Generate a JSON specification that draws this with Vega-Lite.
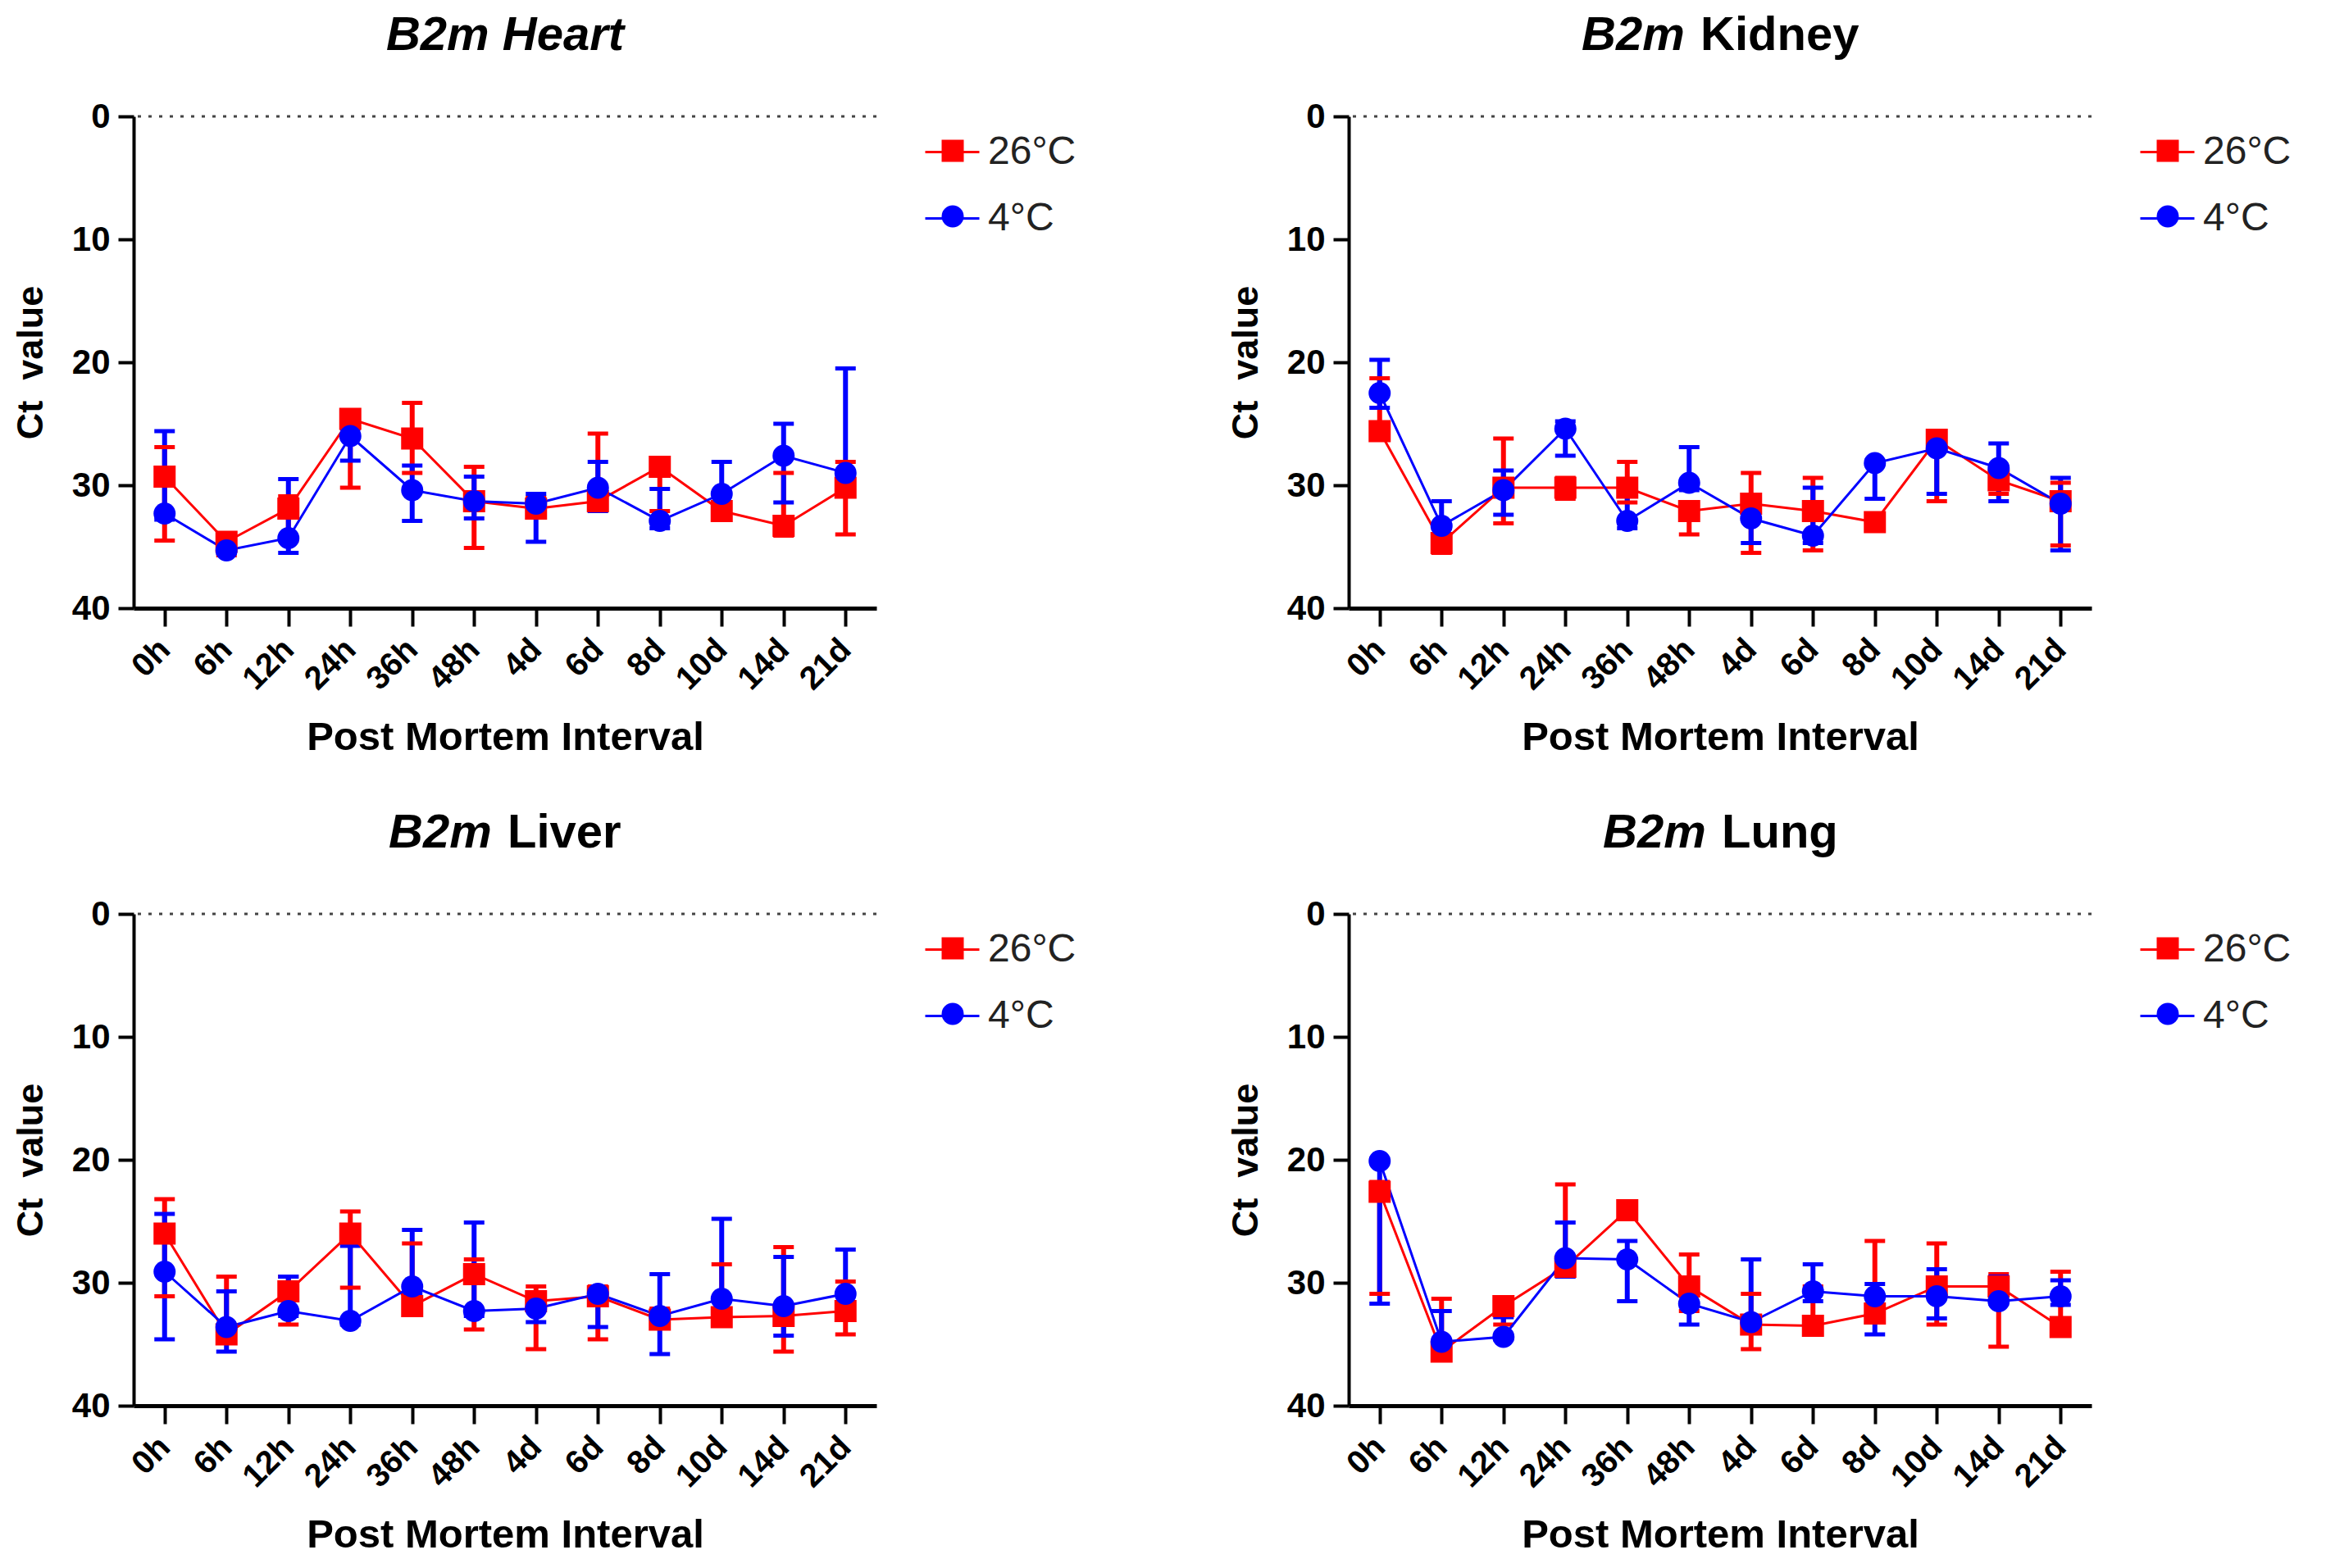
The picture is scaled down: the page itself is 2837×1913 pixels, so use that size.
{
  "$schema": "https://vega.github.io/schema/vega-lite/v6.json",
  "background": "white",
  "padding": {"left": 15, "top": 15, "right": 5, "bottom": 5},
  "config": {
    "font": "Liberation Sans",
    "view": {"stroke": null},
    "scale": {"pointPadding": 0.5},
    "axis": {"grid": false, "domainColor": "black", "tickColor": "black", "labelColor": "black", "titleColor": "black", "labelFont": "Liberation Sans", "titleFont": "Liberation Sans", "labelFontWeight": "bold", "titleFontWeight": "bold"},
    "axisX": {"labelAngle": -45, "labelAlign": "right", "labelBaseline": "middle", "labelPadding": 22, "labelFontSize": 40, "tickSize": 22, "tickWidth": 4, "domainWidth": 5, "titleFontSize": 49, "titlePadding": 27, "labelOverlap": false},
    "axisY": {"tickCount": 4, "labelFontSize": 42, "tickSize": 19, "tickWidth": 4, "domainWidth": 4, "labelPadding": 10, "titleFontSize": 45, "titlePadding": 27},
    "title": {"font": "Liberation Sans", "fontSize": 58, "fontWeight": "bold", "color": "black", "offset": 48, "frame": "group"},
    "legend": {"labelFont": "Liberation Sans", "labelFontSize": 48, "labelColor": "#222", "rowPadding": 22, "padding": 0}
  },
  "datasets": {
    "ct": [
      {"tissue":"Heart","temp":"26°C","pmi":"0h","mean":29.3,"lo":26.9,"hi":34.5},
      {"tissue":"Heart","temp":"26°C","pmi":"6h","mean":34.6,"lo":34.1,"hi":35.7},
      {"tissue":"Heart","temp":"26°C","pmi":"12h","mean":31.9,"lo":30.9,"hi":34.5},
      {"tissue":"Heart","temp":"26°C","pmi":"24h","mean":24.6,"lo":24.3,"hi":30.2},
      {"tissue":"Heart","temp":"26°C","pmi":"36h","mean":26.2,"lo":23.3,"hi":29.0},
      {"tissue":"Heart","temp":"26°C","pmi":"48h","mean":31.3,"lo":28.5,"hi":35.1},
      {"tissue":"Heart","temp":"26°C","pmi":"4d","mean":31.9,"lo":31.0,"hi":32.3},
      {"tissue":"Heart","temp":"26°C","pmi":"6d","mean":31.3,"lo":25.8,"hi":31.7},
      {"tissue":"Heart","temp":"26°C","pmi":"8d","mean":28.5,"lo":28.0,"hi":32.1},
      {"tissue":"Heart","temp":"26°C","pmi":"10d","mean":32.1,"lo":30.7,"hi":32.7},
      {"tissue":"Heart","temp":"26°C","pmi":"14d","mean":33.3,"lo":29.0,"hi":34.1},
      {"tissue":"Heart","temp":"26°C","pmi":"21d","mean":30.2,"lo":28.1,"hi":34.0},
      {"tissue":"Heart","temp":"4°C","pmi":"0h","mean":32.3,"lo":25.6,"hi":32.8},
      {"tissue":"Heart","temp":"4°C","pmi":"6h","mean":35.3,"lo":34.9,"hi":35.5},
      {"tissue":"Heart","temp":"4°C","pmi":"12h","mean":34.3,"lo":29.5,"hi":35.5},
      {"tissue":"Heart","temp":"4°C","pmi":"24h","mean":26.0,"lo":25.4,"hi":28.0},
      {"tissue":"Heart","temp":"4°C","pmi":"36h","mean":30.4,"lo":28.4,"hi":32.9},
      {"tissue":"Heart","temp":"4°C","pmi":"48h","mean":31.3,"lo":29.3,"hi":32.7},
      {"tissue":"Heart","temp":"4°C","pmi":"4d","mean":31.5,"lo":30.7,"hi":34.6},
      {"tissue":"Heart","temp":"4°C","pmi":"6d","mean":30.2,"lo":28.1,"hi":32.1},
      {"tissue":"Heart","temp":"4°C","pmi":"8d","mean":32.9,"lo":30.3,"hi":33.5},
      {"tissue":"Heart","temp":"4°C","pmi":"10d","mean":30.7,"lo":28.1,"hi":31.9},
      {"tissue":"Heart","temp":"4°C","pmi":"14d","mean":27.6,"lo":25.0,"hi":31.4},
      {"tissue":"Heart","temp":"4°C","pmi":"21d","mean":29.0,"lo":20.5,"hi":30.0},
      {"tissue":"Kidney","temp":"26°C","pmi":"0h","mean":25.6,"lo":21.3,"hi":26.2},
      {"tissue":"Kidney","temp":"26°C","pmi":"6h","mean":34.7,"lo":33.5,"hi":35.5},
      {"tissue":"Kidney","temp":"26°C","pmi":"12h","mean":30.2,"lo":26.2,"hi":33.1},
      {"tissue":"Kidney","temp":"26°C","pmi":"24h","mean":30.2,"lo":29.4,"hi":31.1},
      {"tissue":"Kidney","temp":"26°C","pmi":"36h","mean":30.2,"lo":28.1,"hi":31.4},
      {"tissue":"Kidney","temp":"26°C","pmi":"48h","mean":32.1,"lo":31.5,"hi":34.0},
      {"tissue":"Kidney","temp":"26°C","pmi":"4d","mean":31.5,"lo":29.0,"hi":35.5},
      {"tissue":"Kidney","temp":"26°C","pmi":"6d","mean":32.1,"lo":29.4,"hi":35.3},
      {"tissue":"Kidney","temp":"26°C","pmi":"8d","mean":33.0,"lo":32.3,"hi":33.7},
      {"tissue":"Kidney","temp":"26°C","pmi":"10d","mean":26.3,"lo":26.0,"hi":31.3},
      {"tissue":"Kidney","temp":"26°C","pmi":"14d","mean":29.6,"lo":28.5,"hi":30.7},
      {"tissue":"Kidney","temp":"26°C","pmi":"21d","mean":31.3,"lo":29.8,"hi":34.9},
      {"tissue":"Kidney","temp":"4°C","pmi":"0h","mean":22.5,"lo":19.8,"hi":23.7},
      {"tissue":"Kidney","temp":"4°C","pmi":"6h","mean":33.3,"lo":31.3,"hi":35.3},
      {"tissue":"Kidney","temp":"4°C","pmi":"12h","mean":30.4,"lo":28.8,"hi":32.4},
      {"tissue":"Kidney","temp":"4°C","pmi":"24h","mean":25.4,"lo":24.8,"hi":27.6},
      {"tissue":"Kidney","temp":"4°C","pmi":"36h","mean":32.9,"lo":30.9,"hi":33.5},
      {"tissue":"Kidney","temp":"4°C","pmi":"48h","mean":29.8,"lo":26.9,"hi":30.4},
      {"tissue":"Kidney","temp":"4°C","pmi":"4d","mean":32.7,"lo":31.5,"hi":34.7},
      {"tissue":"Kidney","temp":"4°C","pmi":"6d","mean":34.1,"lo":30.2,"hi":34.7},
      {"tissue":"Kidney","temp":"4°C","pmi":"8d","mean":28.2,"lo":28.0,"hi":31.1},
      {"tissue":"Kidney","temp":"4°C","pmi":"10d","mean":27.0,"lo":26.2,"hi":30.7},
      {"tissue":"Kidney","temp":"4°C","pmi":"14d","mean":28.6,"lo":26.6,"hi":31.3},
      {"tissue":"Kidney","temp":"4°C","pmi":"21d","mean":31.5,"lo":29.4,"hi":35.3},
      {"tissue":"Liver","temp":"26°C","pmi":"0h","mean":26.0,"lo":23.2,"hi":31.1},
      {"tissue":"Liver","temp":"26°C","pmi":"6h","mean":34.2,"lo":29.5,"hi":34.8},
      {"tissue":"Liver","temp":"26°C","pmi":"12h","mean":30.7,"lo":29.5,"hi":33.4},
      {"tissue":"Liver","temp":"26°C","pmi":"24h","mean":26.0,"lo":24.2,"hi":30.4},
      {"tissue":"Liver","temp":"26°C","pmi":"36h","mean":31.9,"lo":26.8,"hi":32.5},
      {"tissue":"Liver","temp":"26°C","pmi":"48h","mean":29.3,"lo":28.1,"hi":33.8},
      {"tissue":"Liver","temp":"26°C","pmi":"4d","mean":31.5,"lo":30.3,"hi":35.4},
      {"tissue":"Liver","temp":"26°C","pmi":"6d","mean":31.1,"lo":30.3,"hi":34.6},
      {"tissue":"Liver","temp":"26°C","pmi":"8d","mean":33.0,"lo":32.1,"hi":33.2},
      {"tissue":"Liver","temp":"26°C","pmi":"10d","mean":32.8,"lo":28.5,"hi":33.2},
      {"tissue":"Liver","temp":"26°C","pmi":"14d","mean":32.7,"lo":27.1,"hi":35.6},
      {"tissue":"Liver","temp":"26°C","pmi":"21d","mean":32.3,"lo":29.9,"hi":34.2},
      {"tissue":"Liver","temp":"4°C","pmi":"0h","mean":29.1,"lo":24.4,"hi":34.6},
      {"tissue":"Liver","temp":"4°C","pmi":"6h","mean":33.6,"lo":30.7,"hi":35.6},
      {"tissue":"Liver","temp":"4°C","pmi":"12h","mean":32.3,"lo":29.5,"hi":32.7},
      {"tissue":"Liver","temp":"4°C","pmi":"24h","mean":33.1,"lo":27.0,"hi":33.4},
      {"tissue":"Liver","temp":"4°C","pmi":"36h","mean":30.3,"lo":25.7,"hi":30.9},
      {"tissue":"Liver","temp":"4°C","pmi":"48h","mean":32.3,"lo":25.1,"hi":32.7},
      {"tissue":"Liver","temp":"4°C","pmi":"4d","mean":32.1,"lo":31.1,"hi":33.2},
      {"tissue":"Liver","temp":"4°C","pmi":"6d","mean":30.9,"lo":30.5,"hi":33.6},
      {"tissue":"Liver","temp":"4°C","pmi":"8d","mean":32.7,"lo":29.3,"hi":35.8},
      {"tissue":"Liver","temp":"4°C","pmi":"10d","mean":31.3,"lo":24.8,"hi":32.3},
      {"tissue":"Liver","temp":"4°C","pmi":"14d","mean":31.9,"lo":27.9,"hi":34.3},
      {"tissue":"Liver","temp":"4°C","pmi":"21d","mean":30.9,"lo":27.3,"hi":31.9},
      {"tissue":"Lung","temp":"26°C","pmi":"0h","mean":22.6,"lo":21.8,"hi":30.9},
      {"tissue":"Lung","temp":"26°C","pmi":"6h","mean":35.6,"lo":31.3,"hi":35.8},
      {"tissue":"Lung","temp":"26°C","pmi":"12h","mean":31.9,"lo":31.6,"hi":33.4},
      {"tissue":"Lung","temp":"26°C","pmi":"24h","mean":28.7,"lo":22.0,"hi":29.1},
      {"tissue":"Lung","temp":"26°C","pmi":"36h","mean":24.1,"lo":23.8,"hi":24.4},
      {"tissue":"Lung","temp":"26°C","pmi":"48h","mean":30.3,"lo":27.7,"hi":32.3},
      {"tissue":"Lung","temp":"26°C","pmi":"4d","mean":33.4,"lo":30.9,"hi":35.4},
      {"tissue":"Lung","temp":"26°C","pmi":"6d","mean":33.5,"lo":30.3,"hi":34.2},
      {"tissue":"Lung","temp":"26°C","pmi":"8d","mean":32.5,"lo":26.6,"hi":33.2},
      {"tissue":"Lung","temp":"26°C","pmi":"10d","mean":30.3,"lo":26.8,"hi":33.4},
      {"tissue":"Lung","temp":"26°C","pmi":"14d","mean":30.3,"lo":29.3,"hi":35.2},
      {"tissue":"Lung","temp":"26°C","pmi":"21d","mean":33.6,"lo":29.1,"hi":34.0},
      {"tissue":"Lung","temp":"4°C","pmi":"0h","mean":20.1,"lo":19.9,"hi":31.7},
      {"tissue":"Lung","temp":"4°C","pmi":"6h","mean":34.8,"lo":32.3,"hi":35.0},
      {"tissue":"Lung","temp":"4°C","pmi":"12h","mean":34.4,"lo":32.8,"hi":34.6},
      {"tissue":"Lung","temp":"4°C","pmi":"24h","mean":28.0,"lo":25.1,"hi":29.5},
      {"tissue":"Lung","temp":"4°C","pmi":"36h","mean":28.1,"lo":26.6,"hi":31.5},
      {"tissue":"Lung","temp":"4°C","pmi":"48h","mean":31.7,"lo":30.9,"hi":33.4},
      {"tissue":"Lung","temp":"4°C","pmi":"4d","mean":33.2,"lo":28.1,"hi":33.6},
      {"tissue":"Lung","temp":"4°C","pmi":"6d","mean":30.7,"lo":28.5,"hi":31.5},
      {"tissue":"Lung","temp":"4°C","pmi":"8d","mean":31.1,"lo":30.1,"hi":34.2},
      {"tissue":"Lung","temp":"4°C","pmi":"10d","mean":31.1,"lo":28.9,"hi":32.9},
      {"tissue":"Lung","temp":"4°C","pmi":"14d","mean":31.5,"lo":29.5,"hi":31.7},
      {"tissue":"Lung","temp":"4°C","pmi":"21d","mean":31.1,"lo":29.8,"hi":31.8}
    ]
  },
  "columns": 2,
  "spacing": {"row": 63, "column": 173},
  "resolve": {"scale": {"color": "independent", "fill": "independent", "stroke": "independent", "shape": "independent"}},
  "concat": [
    {
      "width": 906, "height": 600,
      "title": {"text": "B2m Heart", "fontStyle": "italic", "anchor": "middle"},
      "layer": [
        {"data": {"values": [{}]}, "mark": {"type": "rule", "strokeDash": [4, 9], "strokeWidth": 3, "color": "#444"},
         "encoding": {"y": {"datum": 0, "type": "quantitative", "scale": {"domain": [0, 40], "reverse": true, "nice": false, "zero": false}, "title": "Ct\u00a0 value"}}},
        {"data": {"name": "ct"}, "transform": [{"filter": "datum.tissue === 'Heart'"}],
         "layer": [
          {"mark": {"type": "rule", "strokeWidth": 6, "opacity": 1},
           "encoding": {"x": {"field": "pmi", "type": "ordinal", "sort": ["0h","6h","12h","24h","36h","48h","4d","6d","8d","10d","14d","21d"], "scale": {"type": "point"}, "title": "Post Mortem Interval"},
                        "y": {"field": "lo", "type": "quantitative", "scale": {"domain": [0, 40], "reverse": true, "nice": false, "zero": false}, "title": "Ct\u00a0 value"},
                        "y2": {"field": "hi"},
                        "color": {"field": "temp", "type": "nominal", "scale": {"range": ["#ff0000", "#0000ff"]}, "legend": null}}},
          {"mark": {"type": "tick", "orient": "horizontal", "size": 25, "thickness": 5, "opacity": 1},
           "encoding": {"x": {"field": "pmi", "type": "ordinal", "sort": ["0h","6h","12h","24h","36h","48h","4d","6d","8d","10d","14d","21d"], "scale": {"type": "point"}, "title": "Post Mortem Interval"},
                        "y": {"field": "lo", "type": "quantitative", "scale": {"domain": [0, 40], "reverse": true, "nice": false, "zero": false}, "title": "Ct\u00a0 value"},
                        "color": {"field": "temp", "type": "nominal", "scale": {"range": ["#ff0000", "#0000ff"]}, "legend": null}}},
          {"mark": {"type": "tick", "orient": "horizontal", "size": 25, "thickness": 5, "opacity": 1},
           "encoding": {"x": {"field": "pmi", "type": "ordinal", "sort": ["0h","6h","12h","24h","36h","48h","4d","6d","8d","10d","14d","21d"], "scale": {"type": "point"}, "title": "Post Mortem Interval"},
                        "y": {"field": "hi", "type": "quantitative", "scale": {"domain": [0, 40], "reverse": true, "nice": false, "zero": false}, "title": "Ct\u00a0 value"},
                        "color": {"field": "temp", "type": "nominal", "scale": {"range": ["#ff0000", "#0000ff"]}, "legend": null}}},
          {"mark": {"type": "line", "strokeWidth": 3, "opacity": 1},
           "encoding": {"x": {"field": "pmi", "type": "ordinal", "sort": ["0h","6h","12h","24h","36h","48h","4d","6d","8d","10d","14d","21d"], "scale": {"type": "point"}, "title": "Post Mortem Interval"},
                        "y": {"field": "mean", "type": "quantitative", "scale": {"domain": [0, 40], "reverse": true, "nice": false, "zero": false}, "title": "Ct\u00a0 value"},
                        "order": {"value": null},
                        "stroke": {"field": "temp", "type": "nominal", "scale": {"domain": ["26°C", "4°C"], "range": ["#ff0000", "#0000ff"]},
                                   "legend": {"title": null, "orient": "none", "legendX": 964, "legendY": 9, "symbolType": "stroke", "symbolSize": 4356, "symbolStrokeWidth": 3, "labelOffset": 9}}}},
          {"mark": {"type": "point", "filled": true, "size": 729, "opacity": 1, "strokeWidth": 0},
           "encoding": {"x": {"field": "pmi", "type": "ordinal", "sort": ["0h","6h","12h","24h","36h","48h","4d","6d","8d","10d","14d","21d"], "scale": {"type": "point"}, "title": "Post Mortem Interval"},
                        "y": {"field": "mean", "type": "quantitative", "scale": {"domain": [0, 40], "reverse": true, "nice": false, "zero": false}, "title": "Ct\u00a0 value"},
                        "fill": {"field": "temp", "type": "nominal", "scale": {"range": ["#ff0000", "#0000ff"]},
                                 "legend": {"title": null, "orient": "none", "legendX": 975, "legendY": 18, "symbolSize": 729, "symbolStrokeWidth": 0, "labelOffset": 30, "labelOpacity": 0, "rowPadding": 32}},
                        "shape": {"field": "temp", "type": "nominal", "scale": {"range": ["square", "circle"]},
                                  "legend": {"title": null, "orient": "none", "legendX": 975, "legendY": 18, "symbolSize": 729, "symbolStrokeWidth": 0, "labelOffset": 30, "labelOpacity": 0, "rowPadding": 32}}}}
         ]}
      ]
    },
    {
      "width": 906, "height": 600,
      "title": {"text": "B2m", "fontStyle": "italic", "anchor": "start", "dx": 284, "subtitle": "\u200b\u00a0\u00a0\u00a0\u00a0\u00a0\u00a0\u00a0\u00a0\u00a0Kidney", "subtitlePadding": -58, "subtitleFont": "Liberation Sans", "subtitleFontSize": 58, "subtitleFontWeight": "bold", "subtitleFontStyle": "normal", "subtitleColor": "black"},
      "layer": [
        {"data": {"values": [{}]}, "mark": {"type": "rule", "strokeDash": [4, 9], "strokeWidth": 3, "color": "#444"},
         "encoding": {"y": {"datum": 0, "type": "quantitative", "scale": {"domain": [0, 40], "reverse": true, "nice": false, "zero": false}, "title": "Ct\u00a0 value"}}},
        {"data": {"name": "ct"}, "transform": [{"filter": "datum.tissue === 'Kidney'"}],
         "layer": [
          {"mark": {"type": "rule", "strokeWidth": 6, "opacity": 1},
           "encoding": {"x": {"field": "pmi", "type": "ordinal", "sort": ["0h","6h","12h","24h","36h","48h","4d","6d","8d","10d","14d","21d"], "scale": {"type": "point"}, "title": "Post Mortem Interval"},
                        "y": {"field": "lo", "type": "quantitative", "scale": {"domain": [0, 40], "reverse": true, "nice": false, "zero": false}, "title": "Ct\u00a0 value"},
                        "y2": {"field": "hi"},
                        "color": {"field": "temp", "type": "nominal", "scale": {"range": ["#ff0000", "#0000ff"]}, "legend": null}}},
          {"mark": {"type": "tick", "orient": "horizontal", "size": 25, "thickness": 5, "opacity": 1},
           "encoding": {"x": {"field": "pmi", "type": "ordinal", "sort": ["0h","6h","12h","24h","36h","48h","4d","6d","8d","10d","14d","21d"], "scale": {"type": "point"}, "title": "Post Mortem Interval"},
                        "y": {"field": "lo", "type": "quantitative", "scale": {"domain": [0, 40], "reverse": true, "nice": false, "zero": false}, "title": "Ct\u00a0 value"},
                        "color": {"field": "temp", "type": "nominal", "scale": {"range": ["#ff0000", "#0000ff"]}, "legend": null}}},
          {"mark": {"type": "tick", "orient": "horizontal", "size": 25, "thickness": 5, "opacity": 1},
           "encoding": {"x": {"field": "pmi", "type": "ordinal", "sort": ["0h","6h","12h","24h","36h","48h","4d","6d","8d","10d","14d","21d"], "scale": {"type": "point"}, "title": "Post Mortem Interval"},
                        "y": {"field": "hi", "type": "quantitative", "scale": {"domain": [0, 40], "reverse": true, "nice": false, "zero": false}, "title": "Ct\u00a0 value"},
                        "color": {"field": "temp", "type": "nominal", "scale": {"range": ["#ff0000", "#0000ff"]}, "legend": null}}},
          {"mark": {"type": "line", "strokeWidth": 3, "opacity": 1},
           "encoding": {"x": {"field": "pmi", "type": "ordinal", "sort": ["0h","6h","12h","24h","36h","48h","4d","6d","8d","10d","14d","21d"], "scale": {"type": "point"}, "title": "Post Mortem Interval"},
                        "y": {"field": "mean", "type": "quantitative", "scale": {"domain": [0, 40], "reverse": true, "nice": false, "zero": false}, "title": "Ct\u00a0 value"},
                        "order": {"value": null},
                        "stroke": {"field": "temp", "type": "nominal", "scale": {"domain": ["26°C", "4°C"], "range": ["#ff0000", "#0000ff"]},
                                   "legend": {"title": null, "orient": "none", "legendX": 964, "legendY": 9, "symbolType": "stroke", "symbolSize": 4356, "symbolStrokeWidth": 3, "labelOffset": 9}}}},
          {"mark": {"type": "point", "filled": true, "size": 729, "opacity": 1, "strokeWidth": 0},
           "encoding": {"x": {"field": "pmi", "type": "ordinal", "sort": ["0h","6h","12h","24h","36h","48h","4d","6d","8d","10d","14d","21d"], "scale": {"type": "point"}, "title": "Post Mortem Interval"},
                        "y": {"field": "mean", "type": "quantitative", "scale": {"domain": [0, 40], "reverse": true, "nice": false, "zero": false}, "title": "Ct\u00a0 value"},
                        "fill": {"field": "temp", "type": "nominal", "scale": {"range": ["#ff0000", "#0000ff"]},
                                 "legend": {"title": null, "orient": "none", "legendX": 975, "legendY": 18, "symbolSize": 729, "symbolStrokeWidth": 0, "labelOffset": 30, "labelOpacity": 0, "rowPadding": 32}},
                        "shape": {"field": "temp", "type": "nominal", "scale": {"range": ["square", "circle"]},
                                  "legend": {"title": null, "orient": "none", "legendX": 975, "legendY": 18, "symbolSize": 729, "symbolStrokeWidth": 0, "labelOffset": 30, "labelOpacity": 0, "rowPadding": 32}}}}
         ]}
      ]
    },
    {
      "width": 906, "height": 600,
      "title": {"text": "B2m", "fontStyle": "italic", "anchor": "start", "dx": 311, "subtitle": "\u200b\u00a0\u00a0\u00a0\u00a0\u00a0\u00a0\u00a0\u00a0\u00a0Liver", "subtitlePadding": -58, "subtitleFont": "Liberation Sans", "subtitleFontSize": 58, "subtitleFontWeight": "bold", "subtitleFontStyle": "normal", "subtitleColor": "black"},
      "layer": [
        {"data": {"values": [{}]}, "mark": {"type": "rule", "strokeDash": [4, 9], "strokeWidth": 3, "color": "#444"},
         "encoding": {"y": {"datum": 0, "type": "quantitative", "scale": {"domain": [0, 40], "reverse": true, "nice": false, "zero": false}, "title": "Ct\u00a0 value"}}},
        {"data": {"name": "ct"}, "transform": [{"filter": "datum.tissue === 'Liver'"}],
         "layer": [
          {"mark": {"type": "rule", "strokeWidth": 6, "opacity": 1},
           "encoding": {"x": {"field": "pmi", "type": "ordinal", "sort": ["0h","6h","12h","24h","36h","48h","4d","6d","8d","10d","14d","21d"], "scale": {"type": "point"}, "title": "Post Mortem Interval"},
                        "y": {"field": "lo", "type": "quantitative", "scale": {"domain": [0, 40], "reverse": true, "nice": false, "zero": false}, "title": "Ct\u00a0 value"},
                        "y2": {"field": "hi"},
                        "color": {"field": "temp", "type": "nominal", "scale": {"range": ["#ff0000", "#0000ff"]}, "legend": null}}},
          {"mark": {"type": "tick", "orient": "horizontal", "size": 25, "thickness": 5, "opacity": 1},
           "encoding": {"x": {"field": "pmi", "type": "ordinal", "sort": ["0h","6h","12h","24h","36h","48h","4d","6d","8d","10d","14d","21d"], "scale": {"type": "point"}, "title": "Post Mortem Interval"},
                        "y": {"field": "lo", "type": "quantitative", "scale": {"domain": [0, 40], "reverse": true, "nice": false, "zero": false}, "title": "Ct\u00a0 value"},
                        "color": {"field": "temp", "type": "nominal", "scale": {"range": ["#ff0000", "#0000ff"]}, "legend": null}}},
          {"mark": {"type": "tick", "orient": "horizontal", "size": 25, "thickness": 5, "opacity": 1},
           "encoding": {"x": {"field": "pmi", "type": "ordinal", "sort": ["0h","6h","12h","24h","36h","48h","4d","6d","8d","10d","14d","21d"], "scale": {"type": "point"}, "title": "Post Mortem Interval"},
                        "y": {"field": "hi", "type": "quantitative", "scale": {"domain": [0, 40], "reverse": true, "nice": false, "zero": false}, "title": "Ct\u00a0 value"},
                        "color": {"field": "temp", "type": "nominal", "scale": {"range": ["#ff0000", "#0000ff"]}, "legend": null}}},
          {"mark": {"type": "line", "strokeWidth": 3, "opacity": 1},
           "encoding": {"x": {"field": "pmi", "type": "ordinal", "sort": ["0h","6h","12h","24h","36h","48h","4d","6d","8d","10d","14d","21d"], "scale": {"type": "point"}, "title": "Post Mortem Interval"},
                        "y": {"field": "mean", "type": "quantitative", "scale": {"domain": [0, 40], "reverse": true, "nice": false, "zero": false}, "title": "Ct\u00a0 value"},
                        "order": {"value": null},
                        "stroke": {"field": "temp", "type": "nominal", "scale": {"domain": ["26°C", "4°C"], "range": ["#ff0000", "#0000ff"]},
                                   "legend": {"title": null, "orient": "none", "legendX": 964, "legendY": 9, "symbolType": "stroke", "symbolSize": 4356, "symbolStrokeWidth": 3, "labelOffset": 9}}}},
          {"mark": {"type": "point", "filled": true, "size": 729, "opacity": 1, "strokeWidth": 0},
           "encoding": {"x": {"field": "pmi", "type": "ordinal", "sort": ["0h","6h","12h","24h","36h","48h","4d","6d","8d","10d","14d","21d"], "scale": {"type": "point"}, "title": "Post Mortem Interval"},
                        "y": {"field": "mean", "type": "quantitative", "scale": {"domain": [0, 40], "reverse": true, "nice": false, "zero": false}, "title": "Ct\u00a0 value"},
                        "fill": {"field": "temp", "type": "nominal", "scale": {"range": ["#ff0000", "#0000ff"]},
                                 "legend": {"title": null, "orient": "none", "legendX": 975, "legendY": 18, "symbolSize": 729, "symbolStrokeWidth": 0, "labelOffset": 30, "labelOpacity": 0, "rowPadding": 32}},
                        "shape": {"field": "temp", "type": "nominal", "scale": {"range": ["square", "circle"]},
                                  "legend": {"title": null, "orient": "none", "legendX": 975, "legendY": 18, "symbolSize": 729, "symbolStrokeWidth": 0, "labelOffset": 30, "labelOpacity": 0, "rowPadding": 32}}}}
         ]}
      ]
    },
    {
      "width": 906, "height": 600,
      "title": {"text": "B2m", "fontStyle": "italic", "anchor": "start", "dx": 310, "subtitle": "\u200b\u00a0\u00a0\u00a0\u00a0\u00a0\u00a0\u00a0\u00a0\u00a0Lung", "subtitlePadding": -58, "subtitleFont": "Liberation Sans", "subtitleFontSize": 58, "subtitleFontWeight": "bold", "subtitleFontStyle": "normal", "subtitleColor": "black"},
      "layer": [
        {"data": {"values": [{}]}, "mark": {"type": "rule", "strokeDash": [4, 9], "strokeWidth": 3, "color": "#444"},
         "encoding": {"y": {"datum": 0, "type": "quantitative", "scale": {"domain": [0, 40], "reverse": true, "nice": false, "zero": false}, "title": "Ct\u00a0 value"}}},
        {"data": {"name": "ct"}, "transform": [{"filter": "datum.tissue === 'Lung'"}],
         "layer": [
          {"mark": {"type": "rule", "strokeWidth": 6, "opacity": 1},
           "encoding": {"x": {"field": "pmi", "type": "ordinal", "sort": ["0h","6h","12h","24h","36h","48h","4d","6d","8d","10d","14d","21d"], "scale": {"type": "point"}, "title": "Post Mortem Interval"},
                        "y": {"field": "lo", "type": "quantitative", "scale": {"domain": [0, 40], "reverse": true, "nice": false, "zero": false}, "title": "Ct\u00a0 value"},
                        "y2": {"field": "hi"},
                        "color": {"field": "temp", "type": "nominal", "scale": {"range": ["#ff0000", "#0000ff"]}, "legend": null}}},
          {"mark": {"type": "tick", "orient": "horizontal", "size": 25, "thickness": 5, "opacity": 1},
           "encoding": {"x": {"field": "pmi", "type": "ordinal", "sort": ["0h","6h","12h","24h","36h","48h","4d","6d","8d","10d","14d","21d"], "scale": {"type": "point"}, "title": "Post Mortem Interval"},
                        "y": {"field": "lo", "type": "quantitative", "scale": {"domain": [0, 40], "reverse": true, "nice": false, "zero": false}, "title": "Ct\u00a0 value"},
                        "color": {"field": "temp", "type": "nominal", "scale": {"range": ["#ff0000", "#0000ff"]}, "legend": null}}},
          {"mark": {"type": "tick", "orient": "horizontal", "size": 25, "thickness": 5, "opacity": 1},
           "encoding": {"x": {"field": "pmi", "type": "ordinal", "sort": ["0h","6h","12h","24h","36h","48h","4d","6d","8d","10d","14d","21d"], "scale": {"type": "point"}, "title": "Post Mortem Interval"},
                        "y": {"field": "hi", "type": "quantitative", "scale": {"domain": [0, 40], "reverse": true, "nice": false, "zero": false}, "title": "Ct\u00a0 value"},
                        "color": {"field": "temp", "type": "nominal", "scale": {"range": ["#ff0000", "#0000ff"]}, "legend": null}}},
          {"mark": {"type": "line", "strokeWidth": 3, "opacity": 1},
           "encoding": {"x": {"field": "pmi", "type": "ordinal", "sort": ["0h","6h","12h","24h","36h","48h","4d","6d","8d","10d","14d","21d"], "scale": {"type": "point"}, "title": "Post Mortem Interval"},
                        "y": {"field": "mean", "type": "quantitative", "scale": {"domain": [0, 40], "reverse": true, "nice": false, "zero": false}, "title": "Ct\u00a0 value"},
                        "order": {"value": null},
                        "stroke": {"field": "temp", "type": "nominal", "scale": {"domain": ["26°C", "4°C"], "range": ["#ff0000", "#0000ff"]},
                                   "legend": {"title": null, "orient": "none", "legendX": 964, "legendY": 9, "symbolType": "stroke", "symbolSize": 4356, "symbolStrokeWidth": 3, "labelOffset": 9}}}},
          {"mark": {"type": "point", "filled": true, "size": 729, "opacity": 1, "strokeWidth": 0},
           "encoding": {"x": {"field": "pmi", "type": "ordinal", "sort": ["0h","6h","12h","24h","36h","48h","4d","6d","8d","10d","14d","21d"], "scale": {"type": "point"}, "title": "Post Mortem Interval"},
                        "y": {"field": "mean", "type": "quantitative", "scale": {"domain": [0, 40], "reverse": true, "nice": false, "zero": false}, "title": "Ct\u00a0 value"},
                        "fill": {"field": "temp", "type": "nominal", "scale": {"range": ["#ff0000", "#0000ff"]},
                                 "legend": {"title": null, "orient": "none", "legendX": 975, "legendY": 18, "symbolSize": 729, "symbolStrokeWidth": 0, "labelOffset": 30, "labelOpacity": 0, "rowPadding": 32}},
                        "shape": {"field": "temp", "type": "nominal", "scale": {"range": ["square", "circle"]},
                                  "legend": {"title": null, "orient": "none", "legendX": 975, "legendY": 18, "symbolSize": 729, "symbolStrokeWidth": 0, "labelOffset": 30, "labelOpacity": 0, "rowPadding": 32}}}}
         ]}
      ]
    }
  ]
}
